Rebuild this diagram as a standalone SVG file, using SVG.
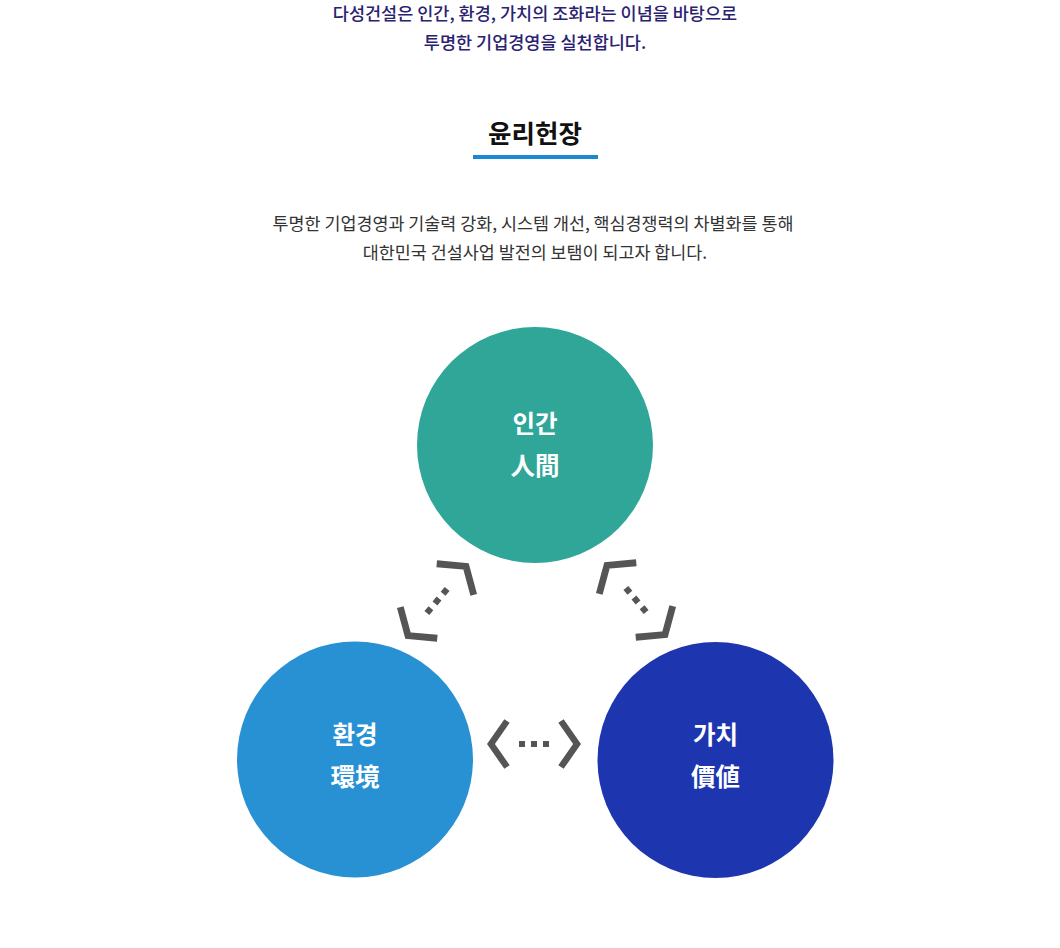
<svg xmlns="http://www.w3.org/2000/svg" width="1060" height="948" viewBox="0 0 1060 948">
  <style>
    .kr { font-family: "Noto Sans CJK KR", "Noto Sans", sans-serif; text-anchor: middle; }
    .intro { font-size: 17.5px; font-weight: 500; fill: #2a2270; }
    .title { font-size: 25.5px; font-weight: 700; fill: #111111; }
    .para { font-size: 17.4px; font-weight: 400; fill: #333333; }
    .lbl { font-size: 24.5px; font-weight: 700; fill: #ffffff; }
    .chev { fill: none; stroke: #555555; stroke-width: 6.5; stroke-linejoin: miter; stroke-linecap: butt; }
    .dot { fill: #555555; }
  </style>
  <defs>
    <g id="link">
      <path class="chev" d="M -27,-23 L -43,0 L -27,23"/>
      <path class="chev" d="M 27,-23 L 43,0 L 27,23"/>
      <rect class="dot" x="-15" y="-3" width="6" height="6"/>
      <rect class="dot" x="-3" y="-3" width="6" height="6"/>
      <rect class="dot" x="9" y="-3" width="6" height="6"/>
    </g>
  </defs>
  <rect width="1060" height="948" fill="#ffffff"/>

  <g id="intro">
    <text class="kr intro" x="535" y="20">다성건설은 인간, 환경, 가치의 조화라는 이념을 바탕으로</text>
    <text class="kr intro" x="535" y="49">투명한 기업경영을 실천합니다.</text>
  </g>

  <g id="heading">
    <text class="kr title" x="535" y="143">윤리헌장</text>
    <rect x="473" y="155" width="125" height="4" fill="#1a88d4"/>
  </g>

  <g id="description">
    <text class="kr para" x="533" y="230">투명한 기업경영과 기술력 강화, 시스템 개선, 핵심경쟁력의 차별화를 통해</text>
    <text class="kr para" x="535" y="259">대한민국 건설사업 발전의 보탬이 되고자 합니다.</text>
  </g>

  <g id="connectors">
    <use href="#link" transform="translate(437,601) rotate(-50) scale(1.05)"/>
    <use href="#link" transform="translate(636,600) rotate(50) scale(1.05)"/>
    <use href="#link" transform="translate(534,744)"/>
  </g>

  <g id="node-human">
    <circle cx="535" cy="445" r="118" fill="#30a699"/>
    <text class="kr lbl" x="535" y="433">인간</text>
    <text class="kr lbl" x="535" y="475">人間</text>
  </g>

  <g id="node-environment">
    <circle cx="355" cy="759.5" r="118" fill="#2891d4"/>
    <text class="kr lbl" x="355" y="744">환경</text>
    <text class="kr lbl" x="355" y="786">環境</text>
  </g>

  <g id="node-value">
    <circle cx="715.5" cy="760" r="118" fill="#1e35b0"/>
    <text class="kr lbl" x="715.5" y="744">가치</text>
    <text class="kr lbl" x="715.5" y="786">價値</text>
  </g>
</svg>
